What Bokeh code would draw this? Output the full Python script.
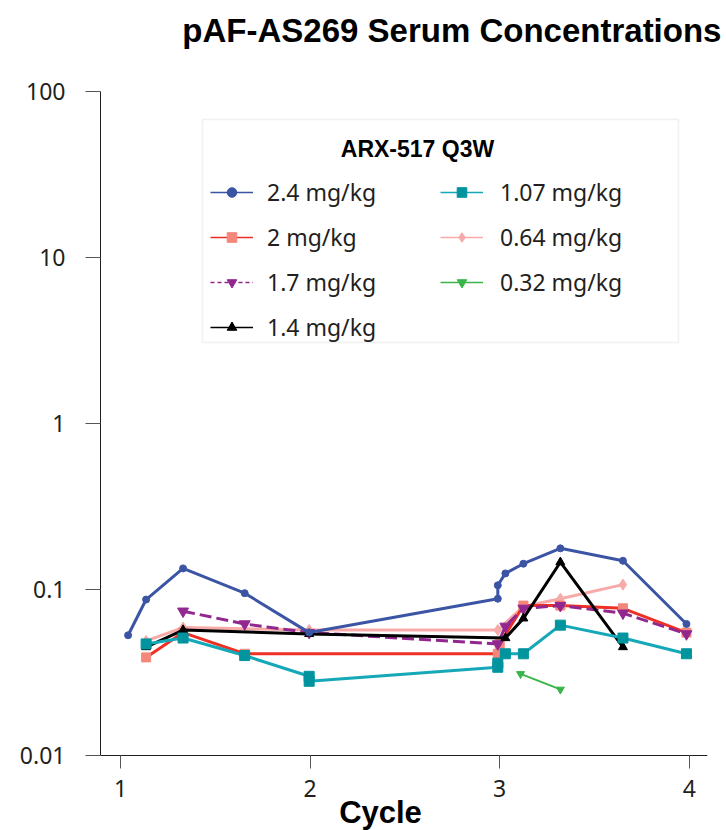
from bokeh.plotting import figure
from bokeh.models import (Legend, LegendItem, Label, BoxAnnotation, FixedTicker,
                          LinearAxis)
from bokeh.embed import file_html
from bokeh.resources import INLINE

# ---------------- data ----------------
x_ticks = [1, 2, 3, 4]
y_ticks = [0.01, 0.1, 1, 10, 100]
y_tick_labels = ["0.01", "0.1", "1", "10", "100"]

x_24 = [1.04, 1.135, 1.33, 1.655, 1.995, 2.99, 2.99, 3.03, 3.125, 3.32, 3.65, 3.985]
y_24 = [0.053, 0.087, 0.134, 0.095, 0.055, 0.088, 0.106, 0.125, 0.143, 0.177, 0.149, 0.062]

x_20 = [1.135, 1.33, 1.655, 2.99, 3.0, 3.125, 3.32, 3.65, 3.985]
y_20 = [0.039, 0.055, 0.041, 0.041, 0.047, 0.080, 0.080, 0.077, 0.055]

x_17 = [1.33, 1.655, 1.995, 2.99, 3.03, 3.125, 3.32, 3.65, 3.985]
y_17 = [0.074, 0.062, 0.055, 0.047, 0.060, 0.077, 0.080, 0.072, 0.054]

x_14 = [1.135, 1.33, 1.995, 3.03, 3.125, 3.32, 3.65]
y_14 = [0.045, 0.057, 0.054, 0.051, 0.067, 0.146, 0.045]

x_107 = [1.135, 1.33, 1.655, 1.995, 1.995, 2.99, 2.99, 3.03, 3.125, 3.32, 3.65, 3.985]
y_107 = [0.047, 0.051, 0.040, 0.030, 0.028, 0.034, 0.036, 0.041, 0.041, 0.061, 0.051, 0.041]

x_064 = [1.135, 1.33, 1.995, 2.99, 3.125, 3.32, 3.65]
y_064 = [0.049, 0.059, 0.057, 0.057, 0.079, 0.088, 0.107]

x_032 = [3.11, 3.32]
y_032 = [0.031, 0.025]

series_labels = ["2.4 mg/kg", "2 mg/kg", "1.7 mg/kg", "1.4 mg/kg",
                 "1.07 mg/kg", "0.64 mg/kg", "0.32 mg/kg"]

chart_title = "pAF-AS269 Serum Concentrations"
x_title = "Cycle"
legend_title = "ARX-517 Q3W"

# ---------------- styles ----------------
TXT = "#231F20"
NAN = float("nan")
styles = {
    "2.4 mg/kg": dict(line="#3B55A4", mk="#3B55A4", marker="circle", size=7, dash="solid", ldash="solid"),
    "2 mg/kg": dict(line="#EE3124", mk="#F4877B", marker="square", size=9, dash="solid", ldash="solid"),
    "1.7 mg/kg": dict(line="#92278F", mk="#92278F", marker="inverted_triangle", size=11, dash="12 5", ldash="4 3"),
    "1.4 mg/kg": dict(line="#000000", mk="#000000", marker="triangle", size=9, dash="solid", ldash="solid"),
    "1.07 mg/kg": dict(line="#14A8B8", mk="#00949F", marker="square", size=10, dash="solid", ldash="solid"),
    "0.64 mg/kg": dict(line="#F7AAA8", mk="#F7AAA8", marker="diamond", size=11, dash="solid", ldash="solid"),
    "0.32 mg/kg": dict(line="#39B54A", mk="#39B54A", marker="inverted_triangle", size=8, dash="solid", ldash="solid"),
}
data = {
    "2.4 mg/kg": (x_24, y_24),
    "2 mg/kg": (x_20, y_20),
    "1.7 mg/kg": (x_17, y_17),
    "1.4 mg/kg": (x_14, y_14),
    "1.07 mg/kg": (x_107, y_107),
    "0.64 mg/kg": (x_064, y_064),
    "0.32 mg/kg": (x_032, y_032),
}

# ---------------- layout ----------------
W, H = 726, 830
AX_LEFT, AX_RIGHT, AX_TOP, AX_BOTTOM = 100, 707, 91, 755   # axis box in pixels
DECADE_PX = (AX_BOTTOM - AX_TOP) / 4.0
X0, X1 = 0.8945, 4.096
Y_LO, Y_HI = 0.01, 100
# the frame runs down to the page bottom so the x labels and title below the
# axis stay inside it; the visible axes are limited to 0.01 .. 100
Y_FRAME_LO = Y_LO * 10 ** (-(H - AX_BOTTOM) / DECADE_PX)

p = figure(width=W, height=H, y_axis_type="log",
           x_range=(X0, X1), y_range=(Y_FRAME_LO, Y_HI),
           output_backend="svg", toolbar_location=None,
           min_border_left=AX_LEFT, min_border_right=W - AX_RIGHT,
           min_border_top=AX_TOP, min_border_bottom=0)
p.outline_line_color = None
p.xgrid.visible = False
p.ygrid.visible = False

for ax in (p.xaxis[0], p.yaxis[0]):
    ax.axis_line_color = TXT
    ax.axis_line_width = 1
    ax.major_tick_line_color = "#555555"
    ax.major_tick_in = 0
    ax.minor_tick_line_color = None
    ax.major_label_text_font = "Noto Sans"
    ax.major_label_text_font_size = "23px"
    ax.major_label_text_color = TXT

p.xaxis.ticker = FixedTicker(ticks=x_ticks)
p.xaxis.fixed_location = Y_LO
p.xaxis.major_tick_out = 13
p.xaxis.major_label_standoff = 11

p.yaxis.ticker = FixedTicker(ticks=y_ticks)
p.yaxis.bounds = (Y_LO, Y_HI)
p.yaxis.major_tick_out = 15
p.yaxis.major_label_standoff = 20
p.yaxis.major_label_overrides = {v: s for v, s in zip(y_ticks, y_tick_labels)}

# chart title: a single bold label on a bare guide axis above the frame
title_x = 2.748   # horizontal centre of the chart title, in cycle units
title_axis = LinearAxis(ticker=FixedTicker(ticks=[title_x]),
                        major_label_overrides={title_x: chart_title},
                        axis_line_color=None, major_tick_line_color=None,
                        minor_tick_line_color=None, major_tick_out=0, major_tick_in=0,
                        major_label_standoff=43,
                        major_label_text_font="Liberation Sans",
                        major_label_text_font_style="bold",
                        major_label_text_font_size="33px",
                        major_label_text_color="#000000")
p.add_layout(title_axis, "above")

# data lines, drawn in stacking order seen in the reference
draw_order = ["0.64 mg/kg", "2 mg/kg", "1.7 mg/kg", "1.4 mg/kg",
              "1.07 mg/kg", "0.32 mg/kg", "2.4 mg/kg"]
for name in draw_order:
    st = styles[name]
    xs, ys = data[name]
    lw = 2 if name == "0.32 mg/kg" else 3
    p.line(xs, ys, line_color=st["line"], line_width=lw, line_dash=st["dash"])
    p.scatter(xs, ys, marker=st["marker"], size=st["size"],
              fill_color=st["mk"], line_color=st["mk"])

# legend glyphs (thin lines as in the reference legend); no visible data
items = {}
for name in series_labels:
    st = styles[name]
    lr = p.line([NAN], [NAN], line_color=st["line"], line_width=1.3, line_dash=st["ldash"])
    sr = p.scatter([NAN], [NAN], marker=st["marker"], size=8,
                   fill_color=st["mk"], line_color=st["mk"])
    items[name] = LegendItem(label=name, renderers=[lr, sr])

FB = H - AX_BOTTOM   # frame bottom lies this far below the x axis
common = dict(orientation="vertical", glyph_width=43, glyph_height=24,
              label_height=24, spacing=13, padding=0, margin=0,
              border_line_color=None, background_fill_alpha=0,
              label_text_font="Noto Sans", label_text_font_size="23px",
              label_text_color=TXT, label_text_baseline="middle")
leg1 = Legend(items=[items[n] for n in series_labels[:4]], location=(110, 412 + FB),
              label_standoff=14, **common)
leg2 = Legend(items=[items[n] for n in series_labels[4:]], location=(340, 457 + FB),
              label_standoff=17, **common)
p.add_layout(leg1)
p.add_layout(leg2)

box = BoxAnnotation(left=102, right=578, top=636 + FB, bottom=413 + FB,
                    left_units="screen", right_units="screen",
                    top_units="screen", bottom_units="screen",
                    fill_color=None, line_color="#CFCFCF", line_width=1.5)
p.add_layout(box)

p.add_layout(Label(x=317, y=607 + FB, x_units="screen", y_units="screen",
                   text=legend_title, text_align="center", text_baseline="middle",
                   text_font="Liberation Sans", text_font_style="bold",
                   text_font_size="23px", text_color="#000000"))

# x-axis title
p.add_layout(Label(x=380 - AX_LEFT, y=18, x_units="screen", y_units="screen",
                   text=x_title, text_align="center", text_baseline="alphabetic",
                   text_font="Liberation Sans", text_font_style="bold",
                   text_font_size="31px", text_color="#000000"))

open("out.html", "w").write(file_html(p, INLINE))
